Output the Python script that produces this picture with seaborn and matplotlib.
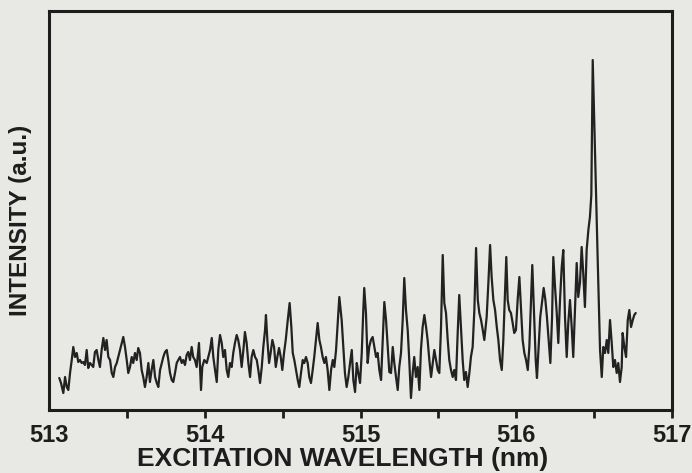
import matplotlib
matplotlib.use("Agg")
import matplotlib.pyplot as plt
import seaborn as sns
import pandas as pd

# Wavelength (nm)
wavelength = [
    513.066, 513.077, 513.092, 513.103, 513.114, 513.124, 513.135, 513.146, 513.156, 513.167,
    513.178, 513.188, 513.199, 513.210, 513.220, 513.231, 513.242, 513.252, 513.263, 513.274,
    513.284, 513.295, 513.306, 513.317, 513.327, 513.338, 513.349, 513.360, 513.370, 513.381,
    513.392, 513.403, 513.413, 513.424, 513.435, 513.456, 513.477, 513.488, 513.499, 513.509,
    513.520, 513.531, 513.541, 513.552, 513.563, 513.573, 513.584, 513.595, 513.605, 513.616,
    513.627, 513.638, 513.648, 513.659, 513.670, 513.681, 513.692, 513.702, 513.713, 513.724,
    513.734, 513.745, 513.756, 513.766, 513.777, 513.788, 513.798, 513.809, 513.820, 513.830,
    513.841, 513.852, 513.862, 513.873, 513.884, 513.894, 513.905, 513.916, 513.926,
    513.937, 513.948, 513.963, 513.976, 513.984, 513.997, 514.013, 514.023, 514.034, 514.045,
    514.055, 514.066, 514.077, 514.087, 514.098, 514.109, 514.119, 514.130, 514.141, 514.151,
    514.162, 514.173, 514.183, 514.194, 514.205, 514.215, 514.226, 514.237, 514.248, 514.258,
    514.269, 514.280, 514.291, 514.301, 514.312, 514.323, 514.334, 514.344, 514.355, 514.366,
    514.376, 514.387, 514.393, 514.402, 514.413, 514.423, 514.434, 514.445, 514.456, 514.466,
    514.477, 514.488, 514.498, 514.509, 514.520, 514.533, 514.545, 514.556, 514.565, 514.575,
    514.586, 514.597, 514.607, 514.618, 514.629, 514.639, 514.650, 514.661, 514.671, 514.682,
    514.693, 514.703, 514.714, 514.725, 514.736, 514.746, 514.757, 514.768, 514.778, 514.789,
    514.800, 514.811, 514.822, 514.832, 514.843, 514.854, 514.864,
    514.879, 514.890, 514.900, 514.911, 514.922, 514.933, 514.944, 514.954, 514.965, 514.976,
    514.986, 514.997, 515.008, 515.018, 515.024, 515.035, 515.046, 515.056, 515.067, 515.078,
    515.089, 515.100, 515.110, 515.121, 515.132, 515.143, 515.153, 515.164, 515.175, 515.185,
    515.196, 515.207, 515.217, 515.228, 515.239, 515.249, 515.260, 515.271, 515.281, 515.292,
    515.303, 515.313, 515.324, 515.335, 515.345, 515.356, 515.367, 515.378, 515.388, 515.399,
    515.410, 515.421, 515.431, 515.442, 515.453, 515.464, 515.474, 515.485, 515.496, 515.506,
    515.517, 515.528, 515.538, 515.549, 515.560, 515.570, 515.581, 515.592, 515.602, 515.613,
    515.624, 515.634, 515.645, 515.656, 515.666, 515.677, 515.688, 515.699, 515.709, 515.720,
    515.731, 515.742, 515.753, 515.763, 515.774, 515.785, 515.795,
    515.810, 515.821, 515.832, 515.842, 515.853, 515.864, 515.875, 515.885, 515.896, 515.907,
    515.917, 515.928, 515.936, 515.945, 515.955, 515.966, 515.977, 515.987, 515.998, 516.009,
    516.020, 516.031, 516.041, 516.052, 516.063, 516.074, 516.084, 516.095, 516.103, 516.114,
    516.125, 516.133, 516.144, 516.154, 516.165, 516.176, 516.187, 516.197, 516.208, 516.219,
    516.230, 516.238, 516.249, 516.260, 516.270, 516.281, 516.292, 516.302, 516.313, 516.324,
    516.334, 516.345, 516.356, 516.366, 516.377, 516.388, 516.398, 516.409, 516.420, 516.430,
    516.441, 516.452, 516.463, 516.473, 516.482, 516.491, 516.506, 516.523, 516.538, 516.549,
    516.559, 516.570, 516.581, 516.591, 516.602, 516.613, 516.623, 516.634, 516.645, 516.655,
    516.666, 516.677, 516.683, 516.694, 516.705, 516.716, 516.726, 516.737, 516.748, 516.758,
    516.767,
]

# Intensity (a.u.)
intensity = [
    32, 27, 17, 33, 23, 20, 37, 50, 63, 53,
    57, 48, 50, 47, 48, 45, 60, 42, 47, 45,
    43, 58, 60, 50, 43, 60, 72, 60, 70, 53,
    50, 37, 33, 43, 47, 60, 73, 63, 50, 37,
    43, 53, 47, 57, 50, 62, 57, 40, 33, 23,
    33, 47, 28, 40, 50, 33, 27, 23, 40, 47,
    53, 58, 60, 50, 37, 30, 28, 37, 47, 50,
    53, 47, 50, 45, 55, 58, 50, 63, 53,
    50, 43, 67, 20, 43, 50, 47, 53, 60, 72,
    53, 40, 28, 60, 75, 67, 53, 60, 40, 33,
    47, 43, 57, 67, 75, 70, 60, 43, 60, 78,
    67, 47, 33, 53, 60, 53, 50, 40, 27, 43,
    63, 80, 95, 70, 47, 57, 70, 63, 43, 53,
    62, 53, 40, 57, 70, 90, 107, 83, 57, 50,
    40, 30, 23, 37, 50, 47, 53, 47, 33, 27,
    40, 53, 70, 87, 70, 63, 53, 47, 53, 40,
    20, 40, 50, 43, 60, 87, 113,
    90, 63, 37, 23, 33, 47, 60, 30, 18, 47,
    37, 27, 57, 100, 122, 97, 47, 63, 70, 73,
    63, 53, 57, 40, 30, 70, 108, 90, 63, 38,
    37, 63, 47, 33, 20, 43, 57, 90, 132, 100,
    80, 50, 12, 37, 53, 33, 43, 20, 60, 83,
    95, 83, 70, 50, 33, 47, 60, 50, 40, 37,
    83, 155, 107, 97, 70, 50, 40, 33, 40, 30,
    77, 115, 83, 50, 30, 38, 23, 37, 53, 63,
    100, 162, 110, 97, 90, 80, 70,
    93, 127, 165, 133, 110, 100, 83, 70, 50, 40,
    70, 117, 153, 110, 100, 97, 87, 77, 80, 110,
    133, 100, 70, 57, 50, 40, 63, 110, 145, 97,
    50, 32, 63, 93, 107, 122, 110, 93, 70, 47,
    93, 153, 123, 97, 67, 110, 143, 160, 93, 53,
    87, 110, 83, 53, 100, 147, 113, 127, 163, 137,
    103, 160, 180, 193, 215, 350, 255, 150, 60, 33,
    63, 57, 70, 57, 90, 67, 43, 50, 37, 47,
    28, 43, 77, 63, 53, 90, 100, 83, 90, 95,
    97,
]

x_major = [513, 514, 515, 516, 517]
x_minor = [513.5, 514.5, 515.5, 516.5]
x_labels = ["513", "514", "515", "516", "517"]

df = pd.DataFrame({"wavelength": wavelength, "intensity": intensity})

sns.set_style("white")
plt.rcParams["font.family"] = ["Liberation Sans", "DejaVu Sans"]

bg = "#e8e8e5"
ink = "#1d1d1d"

fig = plt.figure(figsize=(6.92, 4.73), dpi=100, facecolor=bg)
ax = fig.add_axes([49 / 692, 63 / 473, 623 / 692, 399 / 473])
ax.set_facecolor(bg)

sns.lineplot(data=df, x="wavelength", y="intensity", ax=ax, color="#222222",
             linewidth=1.6, estimator=None, sort=False)

ax.set_xlim(513, 517)
ax.set_ylim(0, 399)
ax.set_yticks([])
ax.set_xticks(x_major)
ax.set_xticklabels(x_labels, fontsize=17, fontweight="bold", color=ink)
ax.set_xticks(x_minor, minor=True)
ax.tick_params(axis="x", which="both", direction="out", length=6, width=2,
               color=ink, pad=4, bottom=True)
ax.xaxis.get_major_ticks()[0].tick1line.set_visible(False)

for s in ax.spines.values():
    s.set_visible(True)
    s.set_linewidth(2.2)
    s.set_color(ink)

ax.set_xlabel("EXCITATION WAVELENGTH (nm)", fontsize=19, fontweight="bold", color=ink)
ax.xaxis.label.set_va("center")
ax.xaxis.set_label_coords(0.471, -0.123)

ax.set_ylabel("INTENSITY (a.u.)", fontsize=17.5, fontweight="bold", color=ink)
ax.yaxis.label.set_va("center")
ax.yaxis.set_label_coords(-0.0457, 0.474)

fig.savefig("out.png", dpi=100, facecolor=bg)
